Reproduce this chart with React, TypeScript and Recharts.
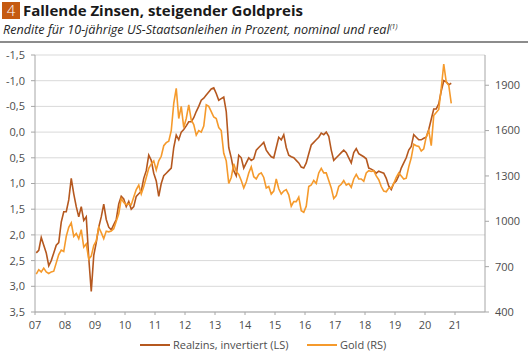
import React from 'react';
import { LineChart, Line, XAxis, YAxis, CartesianGrid } from 'recharts';

const startYear = 2007;

// Realzins (10J US TIPS), Prozent, monatlich ab Jan 2007 (links, invertiert)
const realzins = [
  2.35, 2.3, 2.05, 2.2, 2.35, 2.6, 2.5, 2.35, 2.2, 2.15, 1.75, 1.55,
  1.55, 1.32, 0.9, 1.2, 1.45, 1.65, 1.45, 1.72, 1.65, 2.45, 3.1, 2.4,
  2.15, 1.85, 1.65, 1.4, 1.7, 1.85, 1.9, 1.8, 1.7, 1.4, 1.25, 1.3,
  1.45, 1.35, 1.5, 1.45, 1.25, 1.2, 1.15, 0.9, 0.75, 0.45, 0.55, 0.8,
  0.95, 1.25, 1.0, 0.85, 0.8, 0.75, 0.7, 0.3, 0.06, 0.15, 0.0, -0.05,
  -0.12, -0.2, -0.2, -0.28, -0.4, -0.5, -0.62, -0.66, -0.72, -0.78, -0.84, -0.86,
  -0.75, -0.62, -0.65, -0.68, -0.4, 0.3, 0.5, 0.75, 0.85, 0.45, 0.5, 0.7,
  0.6, 0.5, 0.55, 0.52, 0.35, 0.3, 0.25, 0.2, 0.35, 0.42, 0.48, 0.5,
  0.3, 0.1, 0.15, 0.05, 0.3, 0.45, 0.48, 0.5, 0.55, 0.6, 0.68, 0.7,
  0.6, 0.42, 0.25, 0.2, 0.15, 0.1, 0.02, 0.05, 0.0, 0.08, 0.35, 0.55,
  0.5, 0.45, 0.4, 0.35, 0.4, 0.5, 0.6, 0.4, 0.32, 0.42, 0.45, 0.48,
  0.52, 0.7, 0.72, 0.75, 0.8, 0.76, 0.78, 0.8, 0.9, 1.05, 1.12, 1.0,
  0.95, 0.85, 0.7, 0.6, 0.5, 0.35, 0.28, 0.05, 0.1, 0.15, 0.15, 0.12,
  0.1, -0.05, -0.25, -0.45, -0.45, -0.55, -0.8, -1.0, -0.98, -0.92, -0.95,
];

// Gold in USD/Unze, monatlich ab Jan 2007 (rechts)
const gold = [
  650, 680, 665, 690, 665, 655, 665, 670, 725, 780, 810, 800,
  900, 960, 990, 900, 920, 885, 945, 830, 850, 750, 770, 840,
  870, 960, 925, 885, 935, 930, 935, 950, 1000, 1050, 1150, 1125,
  1110, 1115, 1110, 1160, 1210, 1240, 1180, 1230, 1290, 1350, 1380, 1400,
  1340, 1400, 1430, 1500, 1520, 1530, 1600, 1780, 1880, 1680, 1760, 1620,
  1680, 1770, 1670, 1640, 1570, 1600, 1590, 1630, 1770, 1760, 1725, 1690,
  1680, 1620, 1600, 1450, 1400, 1250, 1290, 1380, 1330, 1310, 1270, 1220,
  1260, 1320, 1360, 1295, 1280, 1310, 1320, 1290, 1220, 1230, 1180, 1200,
  1280, 1215, 1180, 1200, 1210, 1175, 1100, 1130, 1130, 1160, 1070, 1060,
  1100, 1230, 1240, 1270, 1250, 1320, 1350, 1320, 1320, 1270, 1220, 1150,
  1170, 1230, 1245, 1270, 1240, 1250, 1225, 1280, 1310, 1280, 1280, 1265,
  1320, 1335, 1330, 1335, 1300, 1275, 1230, 1200, 1195, 1220, 1220, 1250,
  1290, 1320, 1300, 1280, 1285, 1360, 1420, 1510, 1500, 1495, 1465, 1480,
  1560, 1600, 1500, 1700, 1720, 1740, 1880, 2040, 1920, 1900, 1780,
];

const yearTicks = [2007, 2008, 2009, 2010, 2011, 2012, 2013, 2014, 2015, 2016, 2017, 2018, 2019, 2020, 2021];
const leftTicks = [-1.5, -1, -0.5, 0, 0.5, 1, 1.5, 2, 2.5, 3, 3.5];
const rightTicks = [400, 700, 1000, 1300, 1600, 1900];

const COLOR_REAL = '#b5581f';
const COLOR_GOLD = '#f59a2c';
const FONT = '"Open Sans", sans-serif';

const data = realzins.map((r, i) => ({
  t: startYear + (i + 0.5) / 12,
  realzins: r,
  gold: gold[i],
}));

const tickStyle = { fontSize: 11, fill: '#4d4d4d', fontFamily: FONT };

export default function App() {
  return (
    <div style={{ position: 'absolute', left: 0, top: 0, width: 528, height: 353, background: '#fff', fontFamily: FONT, color: '#1a1a1a' }}>
      <div style={{ position: 'absolute', left: 2, top: 2, width: 18, height: 17, background: '#c55a11', color: '#fff', fontSize: 15, lineHeight: '17px', textAlign: 'center', fontWeight: 300 }}>4</div>
      <div style={{ position: 'absolute', left: 23, top: 0, fontSize: 15, fontWeight: 700, lineHeight: '20px', whiteSpace: 'nowrap' }}>Fallende Zinsen, steigender Goldpreis</div>
      <div style={{ position: 'absolute', left: 3, top: 22, fontSize: 12.6, fontStyle: 'italic', lineHeight: '16px', whiteSpace: 'nowrap', color: '#262626' }}>
        Rendite für 10-jährige US-Staatsanleihen in Prozent, nominal und real<sup style={{ fontSize: 7, verticalAlign: 'top', lineHeight: '10px' }}>(1)</sup>
      </div>
      <div style={{ position: 'absolute', left: 0, top: 41, width: 528, height: 2, background: '#8c8c8c' }} />

      <div style={{ position: 'absolute', left: 0, top: 0 }}>
        <LineChart width={528} height={353} data={data} margin={{ top: 55, right: 0, bottom: 0, left: 0 }}>
          <CartesianGrid yAxisId="left" vertical={false} stroke="#d9d9d9" strokeWidth={1} />
          <XAxis
            dataKey="t"
            type="number"
            domain={[2007, 2022]}
            ticks={yearTicks}
            tickFormatter={(v: number) => String(v % 100).padStart(2, '0')}
            height={41}
            tick={tickStyle}
            tickSize={3}
            tickMargin={6}
            stroke="#a6a6a6"
            allowDataOverflow
          />
          <YAxis
            yAxisId="left"
            reversed
            domain={[-1.5, 3.5]}
            ticks={leftTicks}
            tickFormatter={(v: number) => v.toFixed(1).replace('.', ',')}
            width={35}
            tick={tickStyle}
            tickSize={4}
            tickMargin={6}
            stroke="#a6a6a6"
            allowDataOverflow
          />
          <YAxis
            yAxisId="right"
            orientation="right"
            domain={[400, 2100]}
            ticks={rightTicks}
            width={43}
            tick={{ ...tickStyle, textAnchor: 'start' }}
            tickSize={4}
            tickMargin={6}
            stroke="#a6a6a6"
            allowDataOverflow
          />
          <Line yAxisId="left" type="linear" dataKey="realzins" stroke={COLOR_REAL} strokeWidth={1.6} dot={false} isAnimationActive={false} />
          <Line yAxisId="right" type="linear" dataKey="gold" stroke={COLOR_GOLD} strokeWidth={1.6} dot={false} isAnimationActive={false} />
        </LineChart>
      </div>

      <div style={{ position: 'absolute', left: 0, top: 337, width: 528, height: 16, fontSize: 11, color: '#4d4d4d', lineHeight: '16px' }}>
        <div style={{ position: 'absolute', left: 140, top: 7, width: 30, height: 2, background: COLOR_REAL }} />
        <div style={{ position: 'absolute', left: 173, top: 0, whiteSpace: 'nowrap' }}>Realzins, invertiert (LS)</div>
        <div style={{ position: 'absolute', left: 307, top: 7, width: 30, height: 2, background: COLOR_GOLD }} />
        <div style={{ position: 'absolute', left: 340, top: 0, whiteSpace: 'nowrap' }}>Gold (RS)</div>
      </div>
    </div>
  );
}
